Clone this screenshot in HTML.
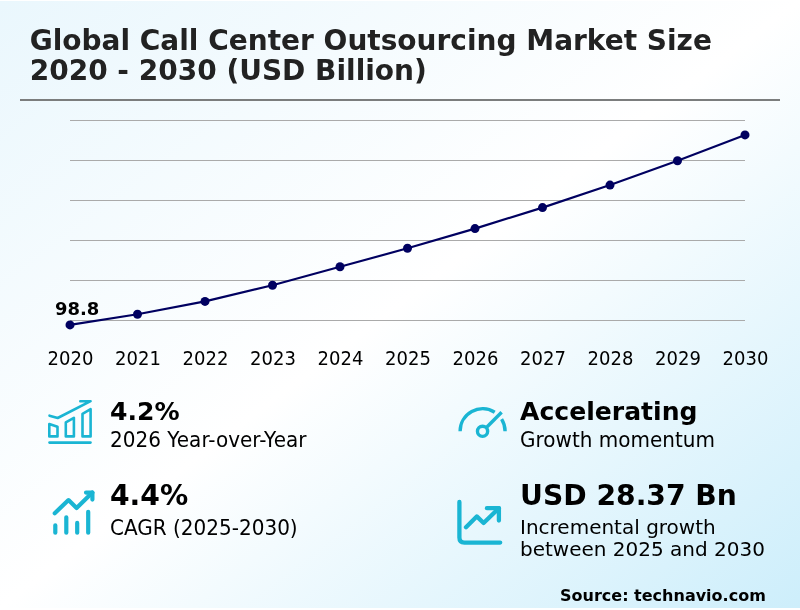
<!DOCTYPE html>
<html lang="en">
<head>
<meta charset="utf-8">
<title>Global Call Center Outsourcing Market Size 2020 - 2030 (USD Billion)</title>
<style>
html,body{margin:0;padding:0;}
body{width:800px;height:610px;overflow:hidden;background:#fff;font-family:"DejaVu Sans","Liberation Sans",sans-serif;color:#000;}
#card{position:absolute;left:0;top:0;width:800px;height:610px;overflow:hidden;background:#fff;}
#bg{position:absolute;left:0;top:1px;width:800px;height:607px;background:linear-gradient(to bottom right,#eaf7fd 0%,#ffffff 50%,#cdeefb 100%);}
h1{position:absolute;left:29.7px;top:25.5px;margin:0;font-size:28px;line-height:30px;font-weight:bold;color:#222;white-space:nowrap;letter-spacing:0;}
#chart{position:absolute;left:0;top:0;width:800px;height:610px;}
.v,.l{position:absolute;white-space:nowrap;margin:0;line-height:30px;}
.v{font-weight:bold;font-size:25.1px;color:#000;transform-origin:0 23.7px;transform:scaleY(1.02);}
.v.big{font-size:28.2px;transform-origin:0 24.8px;transform:translateY(0.3px);}
.l{font-size:20px;color:#000;transform-origin:0 21.9px;transform:scaleY(1.02);}
.ico{position:absolute;left:0;top:0;width:800px;height:610px;}
#src{position:absolute;right:34.2px;top:585.6px;font-size:16px;font-weight:bold;color:#000;line-height:19px;white-space:nowrap;}
</style>
</head>
<body>
<div id="card">
<div id="bg"></div>
<h1>Global Call Center Outsourcing Market Size<br>2020 - 2030 (USD Billion)</h1>

<svg id="chart" width="800" height="610" viewBox="0 0 800 610">
 <line id="rule" x1="20" y1="100" x2="780" y2="100" stroke="#7b7d7d" stroke-width="2.1"/>
 <g stroke="#aaaaaa" stroke-width="1" shape-rendering="crispEdges">
  <line x1="70" y1="120.5" x2="745" y2="120.5"/>
  <line x1="70" y1="160.5" x2="745" y2="160.5"/>
  <line x1="70" y1="200.5" x2="745" y2="200.5"/>
  <line x1="70" y1="240.5" x2="745" y2="240.5"/>
  <line x1="70" y1="280.5" x2="745" y2="280.5"/>
  <line x1="70" y1="320.5" x2="745" y2="320.5"/>
 </g>
 <polyline fill="none" stroke="#000060" stroke-width="2.15" stroke-linejoin="round"
  points="70,324.9 137.5,314.2 205,301.4 272.5,285.2 340,266.8 407.5,248.3 475,228.6 542.5,207.6 610,185.1 677.5,160.8 745,134.9"/>
 <g fill="#000060">
  <circle cx="70" cy="324.9" r="4.5"/><circle cx="137.5" cy="314.2" r="4.5"/><circle cx="205" cy="301.4" r="4.5"/><circle cx="272.5" cy="285.2" r="4.5"/><circle cx="340" cy="266.8" r="4.5"/><circle cx="407.5" cy="248.3" r="4.5"/><circle cx="475" cy="228.6" r="4.5"/><circle cx="542.5" cy="207.6" r="4.5"/><circle cx="610" cy="185.1" r="4.5"/><circle cx="677.5" cy="160.8" r="4.5"/><circle cx="745" cy="134.9" r="4.5"/>
 </g>
 <text x="55.1" y="315.2" font-family="DejaVu Sans, Liberation Sans, sans-serif" font-weight="bold" font-size="17.95" fill="#000">98.8</text>
 <g font-family="DejaVu Sans, Liberation Sans, sans-serif" font-size="18" fill="#000" text-anchor="middle" transform="translate(0.2 364.8) scale(1 1.03) translate(0 -364.5)">
  <text x="70.3" y="364.5">2020</text><text x="137.8" y="364.5">2021</text><text x="205.3" y="364.5">2022</text><text x="272.8" y="364.5">2023</text><text x="340.3" y="364.5">2024</text><text x="407.8" y="364.5">2025</text><text x="475.3" y="364.5">2026</text><text x="542.8" y="364.5">2027</text><text x="610.3" y="364.5">2028</text><text x="677.8" y="364.5">2029</text><text x="745.3" y="364.5">2030</text>
 </g>
</svg>

<svg class="ico" width="800" height="610" viewBox="0 0 800 610" fill="none" stroke="#1ab5d3" stroke-linecap="round" stroke-linejoin="round">
 <!-- icon 1: bar chart with arrow -->
 <g stroke-width="2.6">
  <path d="M49.5 442.6H90.5"/>
  <path d="M49.3 436.4V424L57.5 426.8V436.4Z"/>
  <path d="M65.8 436.4V422.4L73.9 417.8V436.4Z"/>
  <path d="M82.5 436.4V413.8L90.6 409.2V436.4Z"/>
  <path d="M49.5 415.7L57.7 418L90.6 401.2H80.3"/>
 </g>
 <!-- icon 2: bars with zigzag arrow -->
 <g stroke-width="4.2">
  <path d="M55.3 525.3V532.75M66.3 517.3V532.75M77.2 522.9V532.75M88.2 511.8V532.75"/>
  <path d="M54.75 513.2L68.5 500.1L76.6 508L92.4 492.6"/>
  <path d="M86 492.6H92.4V499.6"/>
 </g>
 <!-- icon 3: gauge -->
 <g stroke-width="3.4" stroke-linecap="butt">
  <path d="M460.1 431.3A22.5 22.5 0 0 1 494.7 412.3"/>
  <path d="M501.6 419.2A22.5 22.5 0 0 1 505.1 431.3"/>
  <circle cx="482.55" cy="431.3" r="5.1"/>
  <path d="M486.2 427.7L501.6 412.3"/>
 </g>
 <!-- icon 4: axis with zigzag arrow -->
 <g stroke-width="4.3">
  <path d="M459.4 502V537.6Q459.4 542.6 464.4 542.6H500.2"/>
  <path d="M466 527.2L476.75 516.4L483.6 523L498.9 508.2"/>
  <path d="M486.9 508.2H498.9V520.5"/>
 </g>
</svg>

<div class="v" style="left:110px;top:396.82px;">4.2%</div>
<div class="l" style="left:110px;top:424.98px;">2026 Year-over-Year</div>
<div class="v big" style="left:110px;top:480.74px;">4.4%</div>
<div class="l" style="left:110px;top:513.28px;">CAGR (2025-2030)</div>
<div class="v" style="left:520px;top:396.82px;">Accelerating</div>
<div class="l" style="left:520px;top:424.98px;">Growth momentum</div>
<div class="v big" style="left:520px;top:480.74px;">USD 28.37 Bn</div>
<div class="l" style="left:520px;top:516.18px;line-height:22.2px;transform:none;">Incremental growth<br>between 2025 and 2030</div>
<div id="src">Source: technavio.com</div>
</div>
</body>
</html>
